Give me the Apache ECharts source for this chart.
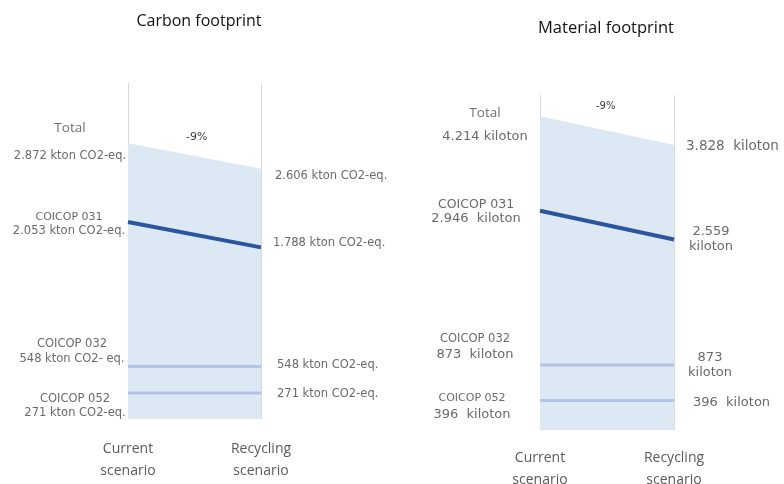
<!DOCTYPE html>
<html>
<head>
<meta charset="utf-8">
<script src="https://cdn.jsdelivr.net/npm/echarts@6/dist/echarts.min.js"></script>
<style>
  html, body { margin: 0; padding: 0; background: #ffffff; }
  #chart { width: 784px; height: 484px; }
</style>
</head>
<body>
<div id="chart"></div>
<script>
// Scenarios compared in both panels
const scenarios = ['Current\nscenario', 'Recycling\nscenario'];

// Carbon footprint, kton CO2-eq. (current, recycling)
const carbonTotal = [2872, 2606];
const carbon031 = [2053, 1788];
const carbon032 = [548, 548];
const carbon052 = [271, 271];

// Material footprint, kiloton (current, recycling)
const materialTotal = [4214, 3828];
const material031 = [2946, 2559];
const material032 = [873, 873];
const material052 = [396, 396];

const panelTitles = ['Carbon footprint', 'Material footprint'];

// 2872 -> "2.872"
const fmt = n => String(n).replace(/\B(?=(\d{3})+(?!\d))/g, '.');
const pct = arr => Math.round((arr[1] - arr[0]) / arr[0] * 100) + '%';

const GREY = '#6a6a6a';
const VALUE_FONT = 'DejaVu Sans';
const TEXT_FONT = 'Open Sans';

function lbl(text, align, dx, dy, extra) {
  return Object.assign({
    show: true,
    position: 'inside',
    align: align,
    verticalAlign: 'middle',
    offset: [dx, dy],
    formatter: text,
    color: GREY,
    fontFamily: VALUE_FONT,
    fontSize: 11.5,
    lineHeight: 14
  }, extra || {});
}

// Builds the two points of a series, each carrying its own label
function points(values, labels) {
  return values.map((v, i) => ({ value: v, label: labels[i] }));
}

function lineSeries(idx, values, labels, color, width, area) {
  const s = {
    type: 'line',
    xAxisIndex: idx,
    yAxisIndex: idx,
    symbol: 'circle',
    symbolSize: 1,
    showSymbol: true,
    itemStyle: { color: 'rgba(0,0,0,0)' },
    lineStyle: { color: color, width: width },
    emphasis: { disabled: true },
    silent: true,
    data: points(values, labels)
  };
  if (area) s.areaStyle = { color: area, opacity: 1 };
  return s;
}

const totalRich = (hSize, hLh, vSize, vLh) => ({
  h: { fontFamily: TEXT_FONT, fontSize: hSize, lineHeight: hLh, color: '#707070', align: 'center' },
  v: { fontFamily: VALUE_FONT, fontSize: vSize, lineHeight: vLh, color: GREY, align: 'center' }
});

const subRich = (cSize, vSize, lh) => ({
  c: { fontSize: cSize, lineHeight: lh, align: 'center', color: GREY, fontFamily: VALUE_FONT },
  v: { fontSize: vSize, lineHeight: lh, align: 'center', color: GREY, fontFamily: VALUE_FONT }
});

const axisLabelStyle = margin => ({
  margin: margin,
  color: '#5a5a5a',
  fontFamily: TEXT_FONT,
  fontSize: 14,
  lineHeight: 22,
  interval: 0
});

const option = {
  animation: false,
  backgroundColor: '#ffffff',
  title: [
    { text: panelTitles[0], left: 194, top: 8, textAlign: 'center',
      textStyle: { fontFamily: TEXT_FONT, fontSize: 16, fontWeight: 'normal', color: '#111' } },
    { text: panelTitles[1], left: 601, top: 15, textAlign: 'center',
      textStyle: { fontFamily: TEXT_FONT, fontSize: 16.5, fontWeight: 'normal', color: '#111' } }
  ],
  grid: [
    { left: 128, right: 523, top: 83, bottom: 65, outerBoundsMode: 'none', containLabel: false },
    { left: 540, right: 110, top: 95, bottom: 54, outerBoundsMode: 'none', containLabel: false }
  ],
  xAxis: [19, 17].map((margin, i) => ({
    type: 'category',
    gridIndex: i,
    data: scenarios,
    boundaryGap: false,
    axisLine: { show: false },
    axisTick: { show: false },
    splitLine: { show: true, lineStyle: { color: '#d9d9d9', width: 1 } },
    axisLabel: axisLabelStyle(margin)
  })),
  yAxis: [
    { type: 'value', gridIndex: 0, min: 0, max: 3500, show: false },
    { type: 'value', gridIndex: 1, min: 0, max: 4500, show: false }
  ],
  graphic: [
    { type: 'text', left: 186, top: 132,
      style: { text: pct(carbonTotal), font: '11px "DejaVu Sans"', fill: '#3a3a3a' } },
    { type: 'text', left: 596, top: 101,
      style: { text: pct(materialTotal), font: '10px "DejaVu Sans"', fill: '#3a3a3a' } }
  ],
  series: [
    // ---- Carbon footprint ----
    lineSeries(0, carbonTotal, [
      lbl(`{h|Total}\n{v|${fmt(carbonTotal[0])} kton CO2-eq.}`, 'center', -58, -7,
        { rich: totalRich(13.5, 40, 11.5, 16) }),
      lbl(`${fmt(carbonTotal[1])} kton CO2-eq.`, 'left', 14, 7)
    ], 'rgba(0,0,0,0)', 0, '#dde8f5'),
    lineSeries(0, carbon052, [
      lbl(`COICOP 052\n${fmt(carbon052[0])} kton CO2-eq.`, 'center', -53, 13),
      lbl(`${fmt(carbon052[1])} kton CO2-eq.`, 'left', 16, 1)
    ], '#b0c4e8', 3),
    lineSeries(0, carbon032, [
      lbl(`COICOP 032\n${fmt(carbon032[0])} kton CO2- eq.`, 'center', -56, -15, { lineHeight: 15 }),
      lbl(`${fmt(carbon032[1])} kton CO2-eq.`, 'left', 16, -1)
    ], '#b0c4e8', 3),
    lineSeries(0, carbon031, [
      lbl(`{c|COICOP 031}\n{v|${fmt(carbon031[0])} kton CO2-eq.}`, 'center', -59, 2,
        { rich: subRich(11, 11.5, 14) }),
      lbl(`${fmt(carbon031[1])} kton CO2-eq.`, 'left', 12, -4)
    ], '#2c55a0', 4),

    // ---- Material footprint ----
    lineSeries(1, materialTotal, [
      lbl(`{h|Total}\n{v|${fmt(materialTotal[0])} kiloton}`, 'center', -55, 5,
        { rich: totalRich(13.5, 30, 13, 16) }),
      lbl(`${fmt(materialTotal[1])}  kiloton`, 'left', 12, 1, { fontSize: 13.5 })
    ], 'rgba(0,0,0,0)', 0, '#dde8f5'),
    lineSeries(1, material052, [
      lbl(`{c|COICOP 052}\n{v|${fmt(material052[0])}  kiloton}`, 'center', -68, 6,
        { rich: subRich(11, 13, 17) }),
      lbl(`${fmt(material052[1])}  kiloton`, 'left', 19, 2, { fontSize: 13 })
    ], '#b0c4e8', 3),
    lineSeries(1, material032, [
      lbl(`{c|COICOP 032}\n{v|${fmt(material032[0])}  kiloton}`, 'center', -65, -18,
        { rich: subRich(11.5, 13, 16) }),
      lbl(`${fmt(material032[1])}\nkiloton`, 'center', 36, 0, { fontSize: 13, lineHeight: 15 })
    ], '#b0c4e8', 3),
    lineSeries(1, material031, [
      lbl(`{c|COICOP 031}\n{v|${fmt(material031[0])}  kiloton}`, 'center', -64, 1,
        { rich: subRich(12.5, 13, 14) }),
      lbl(`${fmt(material031[1])}\nkiloton`, 'center', 37, 0, { fontSize: 13, lineHeight: 15 })
    ], '#2c55a0', 4)
  ]
};

const chart = echarts.init(document.getElementById('chart'), null, { renderer: 'canvas' });
chart.setOption(option);
</script>
</body>
</html>
